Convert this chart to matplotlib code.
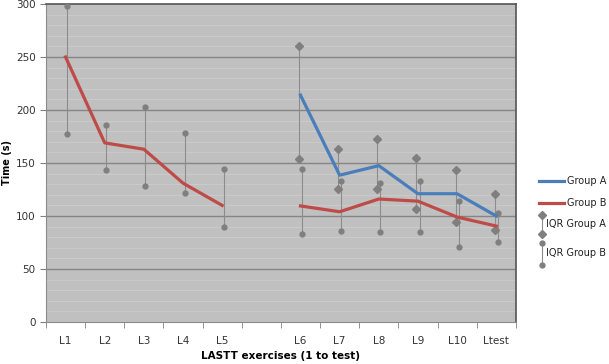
import numpy as np
import matplotlib.pyplot as plt
from matplotlib.lines import Line2D

labels = ['L1', 'L2', 'L3', 'L4', 'L5', '', 'L6', 'L7', 'L8', 'L9', 'L10', 'Ltest']
nan = np.nan

group_a = [nan, nan, nan, nan, nan, nan, 214, 138.5, 147.5, 121, 121, 100]
group_b = [250, 169, 163, 131, 110, nan, 109.5, 104, 116, 114, 99, 90.5]

iqr_a_low = [nan, nan, nan, nan, nan, nan, 153.5, 125, 125, 107, 94, 87]
iqr_a_high = [nan, nan, nan, nan, nan, nan, 260, 163, 173, 155, 143, 121]
iqr_b_low = [177, 143, 128, 122, 89.5, nan, 83, 86, 85, 85, 71, 75.5]
iqr_b_high = [298, 186, 202.5, 178, 144.5, nan, 144.5, 133, 131.5, 133, 114.5, 103]

blue = '#4a7ebb'
red = '#be4b48'
grey = '#7f7f7f'

fig = plt.figure(figsize=(6.09, 3.64), dpi=100)
ax = fig.add_axes([0.0755, 0.1154, 0.7715, 0.8736])
ax.set_facecolor('#c0c0c0')

x = np.arange(len(labels))
xa = x - 0.04
xb = x + 0.04

# faint texture lines like the original fill
for v in range(10, 300, 10):
    if v % 50:
        ax.axhline(v, color='#cdcdcd', lw=0.6, zorder=0)
for v in range(50, 300, 50):
    ax.axhline(v, color='#858585', lw=1.0, zorder=1)

ax.vlines(xa, iqr_a_low, iqr_a_high, color='#8c8c8c', lw=0.8, zorder=2)
ax.vlines(xb, iqr_b_low, iqr_b_high, color='#8c8c8c', lw=0.8, zorder=2)
ax.plot(xa, iqr_a_low, 'D', color=grey, ms=4.5, ls='none', zorder=3)
ax.plot(xa, iqr_a_high, 'D', color=grey, ms=4.5, ls='none', zorder=3)
ax.plot(xb, iqr_b_low, 'o', color=grey, ms=3.5, ls='none', zorder=3)
ax.plot(xb, iqr_b_high, 'o', color=grey, ms=3.5, ls='none', zorder=3)

ax.plot(x, group_b, color=red, lw=2.3, zorder=4)
ax.plot(x, group_a, color=blue, lw=2.3, zorder=4)

ax.set_xlim(-0.5, len(labels) - 0.5)
ax.set_ylim(0, 300)
ax.set_yticks(range(0, 301, 50))
ax.set_xticks(x)
ax.set_xticklabels(labels)
ax.set_xticks(np.arange(-0.5, len(labels)), minor=True)
ax.tick_params(axis='x', which='major', length=0, pad=10, labelsize=7.5, colors='#333333')
ax.tick_params(axis='x', which='minor', length=4, color='#808080', direction='out')
ax.tick_params(axis='y', length=4, color='#808080', labelsize=7.5, colors='#333333')
for s in ['left', 'bottom']:
    ax.spines[s].set_color('#8a8a8a')
for s in ['top', 'right']:
    ax.spines[s].set_color('#555555')
    ax.spines[s].set_linewidth(1.2)

ax.set_ylabel('Time (s)', fontsize=7, fontweight='bold', va='center')
ax.yaxis.set_label_coords(-0.083, 0.5)
ax.set_xlabel('LASTT exercises (1 to test)', fontsize=7.5, fontweight='bold', labelpad=4)

# legend drawn by hand
fs = 7
fig.add_artist(Line2D([0.885, 0.926], [0.503, 0.503], color=blue, lw=2.3))
fig.text(0.931, 0.503, 'Group A', fontsize=fs, va='center', color='#222222')
fig.add_artist(Line2D([0.885, 0.926], [0.442, 0.442], color=red, lw=2.3))
fig.text(0.931, 0.442, 'Group B', fontsize=fs, va='center', color='#222222')
fig.add_artist(Line2D([0.890, 0.890], [0.357, 0.409], color='#8c8c8c', lw=0.8))
fig.add_artist(Line2D([0.890, 0.890], [0.357, 0.409], marker='D', ms=4.5, color=grey, ls='none'))
fig.text(0.897, 0.385, 'IQR Group A', fontsize=fs, va='center', color='#222222')
fig.add_artist(Line2D([0.890, 0.890], [0.272, 0.332], color='#8c8c8c', lw=0.8))
fig.add_artist(Line2D([0.890, 0.890], [0.272, 0.332], marker='o', ms=3.5, color=grey, ls='none'))
fig.text(0.897, 0.305, 'IQR Group B', fontsize=fs, va='center', color='#222222')

fig.savefig('out.png', dpi=100)
